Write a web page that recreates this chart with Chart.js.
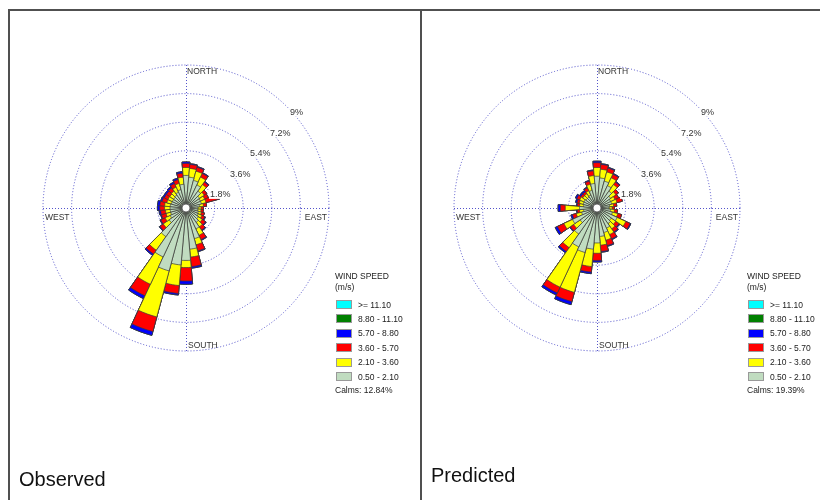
<!DOCTYPE html>
<html>
<head>
<meta charset="utf-8">
<script src="https://cdn.jsdelivr.net/npm/chart.js@4.4.0/dist/chart.umd.min.js"></script>
<style>
  body { margin: 0; width: 820px; height: 500px; position: relative; overflow: hidden; background: #fff;
         font-family: "Liberation Sans", Arial, sans-serif; }
  .panel { position: absolute; top: 9px; height: 491px; border-top: 2px solid #505050; border-left: 2px solid #505050; box-sizing: border-box; }
  .rose { position: absolute; top: 11px; height: 489px; }
  .legend { position: absolute; top: 271px; width: 80px; height: 125px; font-size: 8.5px; color: #222; }
  .legend div { position: absolute; white-space: nowrap; line-height: 10px; }
  .legend .box { width: 16px; height: 9px; border: 1px solid #999; box-sizing: border-box; }
  .caption { position: absolute; font-size: 20px; line-height: 20px; color: #111; }
</style>
</head>
<body>
<div class="panel" style="left:8px; width:414px;"></div>
<div class="panel" style="left:420px; width:402px;"></div>

<div class="rose" style="left:10px; width:410px;"><canvas id="observedChart"></canvas></div>
<div class="rose" style="left:422px; width:398px;"><canvas id="predictedChart"></canvas></div>

<div class="legend" id="observedLegend" style="left:335px;"></div>
<div class="legend" id="predictedLegend" style="left:747px;"></div>

<div class="caption" style="left:19px; top:469px;">Observed</div>
<div class="caption" style="left:431px; top:465px;">Predicted</div>

<script>
// wind directions (degrees, 10 degree sectors)
const directions = [0, 10, 20, 30, 40, 50, 60, 70, 80, 90, 100, 110, 120, 130, 140, 150, 160, 170,
                    180, 190, 200, 210, 220, 230, 240, 250, 260, 270, 280, 290, 300, 310, 320, 330, 340, 350];

// speed classes, lowest first
const speedClasses = ['0.50 - 2.10', '2.10 - 3.60', '3.60 - 5.70', '5.70 - 8.80', '8.80 - 11.10', '>= 11.10'];
const speedColors = ['#c0dcc0', '#ffff00', '#ff0000', '#0000ff', '#008000', '#00ffff'];

// ring ticks
const ringValues = [0, 1.8, 3.6, 5.4, 7.2, 9];
const ringLabels = ['', '1.8%', '3.6%', '5.4%', '7.2%', '9%'];
const compassLabels = ['NORTH', 'EAST', 'SOUTH', 'WEST'];

// Observed frequencies (%) per speed class
const obs_0_5 = [2.05, 1.95, 1.8, 1.6, 1.3, 1.05, 1.0, 1.0, 0.85, 0.75, 0.75, 0.8, 0.85, 0.95, 1.1, 1.45, 2.0, 2.6,
                 3.3, 3.6, 4.1, 3.4, 2.2, 1.3, 1.1, 1.0, 1.0, 1.0, 1.0, 0.95, 0.95, 0.95, 1.0, 1.1, 1.2, 1.5];
const obs_2_1 = [0.5, 0.55, 0.6, 0.55, 0.5, 0.35, 0.3, 0.3, 0.25, 0.2, 0.2, 0.2, 0.25, 0.3, 0.35, 0.45, 0.4, 0.5,
                 0.45, 1.3, 3.0, 1.9, 1.05, 0.45, 0.35, 0.3, 0.3, 0.35, 0.35, 0.3, 0.3, 0.3, 0.3, 0.35, 0.4, 0.45];
const obs_3_6 = [0.25, 0.25, 0.25, 0.25, 0.2, 0.2, 0.25, 0.9, 0.2, 0.15, 0.15, 0.2, 0.2, 0.25, 0.25, 0.3, 0.4, 0.6,
                 0.85, 0.5, 0.95, 0.8, 0.3, 0.25, 0.3, 0.3, 0.3, 0.3, 0.3, 0.3, 0.25, 0.25, 0.25, 0.25, 0.25, 0.25];
const obs_5_7 = [0.1, 0.05, 0.05, 0.05, 0.05, 0, 0, 0, 0, 0, 0, 0, 0.05, 0.05, 0.05, 0.05, 0.05, 0.1,
                 0.2, 0.1, 0.25, 0.2, 0.1, 0.05, 0.05, 0.05, 0.1, 0.15, 0.15, 0.1, 0.1, 0.1, 0.1, 0.1, 0.1, 0.1];
const obs_8_8 = new Array(36).fill(0);
const obs_11_1 = new Array(36).fill(0);

// Predicted frequencies (%) per speed class
const pred_0_5 = [2.0, 1.9, 1.75, 1.55, 1.3, 1.05, 0.95, 0.95, 0.8, 0.75, 0.85, 1.0, 1.4, 1.1, 1.2, 1.4, 1.6, 1.8,
                  2.2, 2.6, 2.9, 2.7, 2.0, 1.3, 1.7, 1.0, 0.85, 1.1, 0.85, 0.9, 0.9, 0.85, 0.85, 0.9, 1.15, 1.55];
const pred_2_1 = [0.55, 0.55, 0.6, 0.55, 0.5, 0.4, 0.3, 0.35, 0.25, 0.2, 0.25, 0.35, 0.6, 0.35, 0.4, 0.45, 0.5, 0.55,
                  0.65, 1.1, 2.6, 2.8, 1.05, 0.5, 0.6, 0.35, 0.25, 0.9, 0.25, 0.25, 0.3, 0.25, 0.25, 0.3, 0.4, 0.5];
const pred_3_6 = [0.3, 0.3, 0.25, 0.25, 0.2, 0.2, 0.25, 0.35, 0.2, 0.15, 0.2, 0.25, 0.3, 0.25, 0.25, 0.3, 0.35, 0.4,
                  0.45, 0.35, 0.6, 0.4, 0.3, 0.25, 0.45, 0.25, 0.15, 0.3, 0.15, 0.15, 0.2, 0.15, 0.15, 0.2, 0.2, 0.3];
const pred_5_7 = [0.1, 0.05, 0.05, 0.05, 0.05, 0, 0, 0, 0, 0, 0, 0, 0.05, 0.05, 0.05, 0.05, 0.05, 0.05,
                  0.1, 0.1, 0.2, 0.15, 0.1, 0.05, 0.15, 0.1, 0.05, 0.15, 0.05, 0.1, 0.1, 0.1, 0.1, 0.05, 0.05, 0.05];
const pred_8_8 = new Array(36).fill(0);
const pred_11_1 = new Array(36).fill(0);

const observedSeries = [obs_0_5, obs_2_1, obs_3_6, obs_5_7, obs_8_8, obs_11_1];
const predictedSeries = [pred_0_5, pred_2_1, pred_3_6, pred_5_7, pred_8_8, pred_11_1];

const gridColor = 'rgba(75, 75, 200, 0.95)';

// petals are stacked by overlaying cumulative wedges; dataset 0 is painted last (on top)
function cumulative(series) {
  const out = [];
  let running = new Array(directions.length).fill(0);
  series.forEach(s => {
    running = running.map((v, i) => v + s[i]);
    out.push(running.slice());
  });
  return out;
}

const roseDecor = {
  id: 'roseDecor',
  beforeDatasetsDraw(chart) {
    const s = chart.scales.r;
    const ctx = chart.ctx;
    const cx = s.xCenter, cy = s.yCenter, R = s.drawingArea;
    ctx.save();
    ctx.strokeStyle = gridColor;
    ctx.lineWidth = 1;
    ctx.setLineDash([1, 2]);
    ctx.beginPath();
    ctx.moveTo(cx - R, cy + 0.5);
    ctx.lineTo(cx + R, cy + 0.5);
    ctx.moveTo(cx + 0.5, cy - R);
    ctx.lineTo(cx + 0.5, cy + R);
    ctx.stroke();
    ctx.restore();
  },
  afterDatasetsDraw(chart) {
    const s = chart.scales.r;
    const ctx = chart.ctx;
    const cx = s.xCenter, cy = s.yCenter, R = s.drawingArea;
    ctx.save();

    // calm circle
    ctx.beginPath();
    ctx.arc(cx, cy, 4, 0, Math.PI * 2);
    ctx.fillStyle = '#fff';
    ctx.fill();
    ctx.strokeStyle = '#555';
    ctx.lineWidth = 0.8;
    ctx.stroke();

    // ring labels, stepped out along the upper right diagonal
    ctx.font = '9px "Liberation Sans", Arial, sans-serif';
    ctx.textBaseline = 'middle';
    ctx.textAlign = 'left';
    ringValues.forEach((v, i) => {
      if (!ringLabels[i]) return;
      const r = s.getDistanceFromCenterForValue(v);
      const x = cx + 0.7 * r + 4;
      const y = cy - (0.72 * r - 7.5);
      const w = ctx.measureText(ringLabels[i]).width;
      ctx.fillStyle = '#fff';
      ctx.fillRect(x - 1, y - 4, w + 2, 8);
      ctx.fillStyle = '#333';
      ctx.fillText(ringLabels[i], x, y);
    });

    // compass labels
    ctx.font = '8.5px "Liberation Sans", Arial, sans-serif';
    ctx.fillStyle = '#333';
    ctx.textBaseline = 'top';
    ctx.fillText(compassLabels[0], cx + 1, cy - R + 2);
    ctx.fillText(compassLabels[3], cx - R + 2, cy + 5);
    ctx.textAlign = 'right';
    ctx.fillText(compassLabels[1], cx + R - 2, cy + 5);
    ctx.textAlign = 'left';
    ctx.textBaseline = 'bottom';
    ctx.fillText(compassLabels[2], cx + 2, cy + R - 1);
    ctx.restore();
  }
};

function makeRose(canvasId, series, padding) {
  const cum = cumulative(series);
  return new Chart(document.getElementById(canvasId), {
    type: 'polarArea',
    data: {
      labels: directions,
      datasets: cum.map((d, k) => ({
        label: speedClasses[k],
        data: d,
        backgroundColor: speedColors[k],
        borderColor: '#3a3a3a',
        borderWidth: 0.7
      }))
    },
    options: {
      responsive: true,
      maintainAspectRatio: false,
      animation: false,
      events: [],
      layout: { padding: padding },
      plugins: {
        legend: { display: false },
        tooltip: { enabled: false }
      },
      scales: {
        r: {
          min: 0,
          max: 9,
          startAngle: -5,
          afterBuildTicks: axis => { axis.ticks = ringValues.map(v => ({ value: v })); },
          ticks: { display: false },
          grid: { circular: true, color: gridColor, lineWidth: 1 },
          border: { dash: [1, 2] },
          angleLines: { display: false },
          pointLabels: { display: false }
        }
      }
    },
    plugins: [roseDecor]
  });
}

function buildLegend(id, calms) {
  const el = document.getElementById(id);
  let html = '<div style="left:0;top:0">WIND SPEED</div><div style="left:0;top:11px">(m/s)</div>';
  for (let k = speedClasses.length - 1, row = 0; k >= 0; k--, row++) {
    const top = 29 + row * 14.4;
    html += '<div class="box" style="left:1px;top:' + top + 'px;background:' + speedColors[k] + '"></div>';
    html += '<div style="left:23px;top:' + (top - 0.5) + 'px">' + speedClasses[k] + '</div>';
  }
  html += '<div style="left:0;top:114px">Calms: ' + calms + '</div>';
  el.innerHTML = html;
}

makeRose('observedChart', observedSeries, { left: 33, top: 54, right: 91, bottom: 149 });
makeRose('predictedChart', predictedSeries, { left: 32, top: 54, right: 80, bottom: 149 });
buildLegend('observedLegend', '12.84%');
buildLegend('predictedLegend', '19.39%');
</script>
</body>
</html>
